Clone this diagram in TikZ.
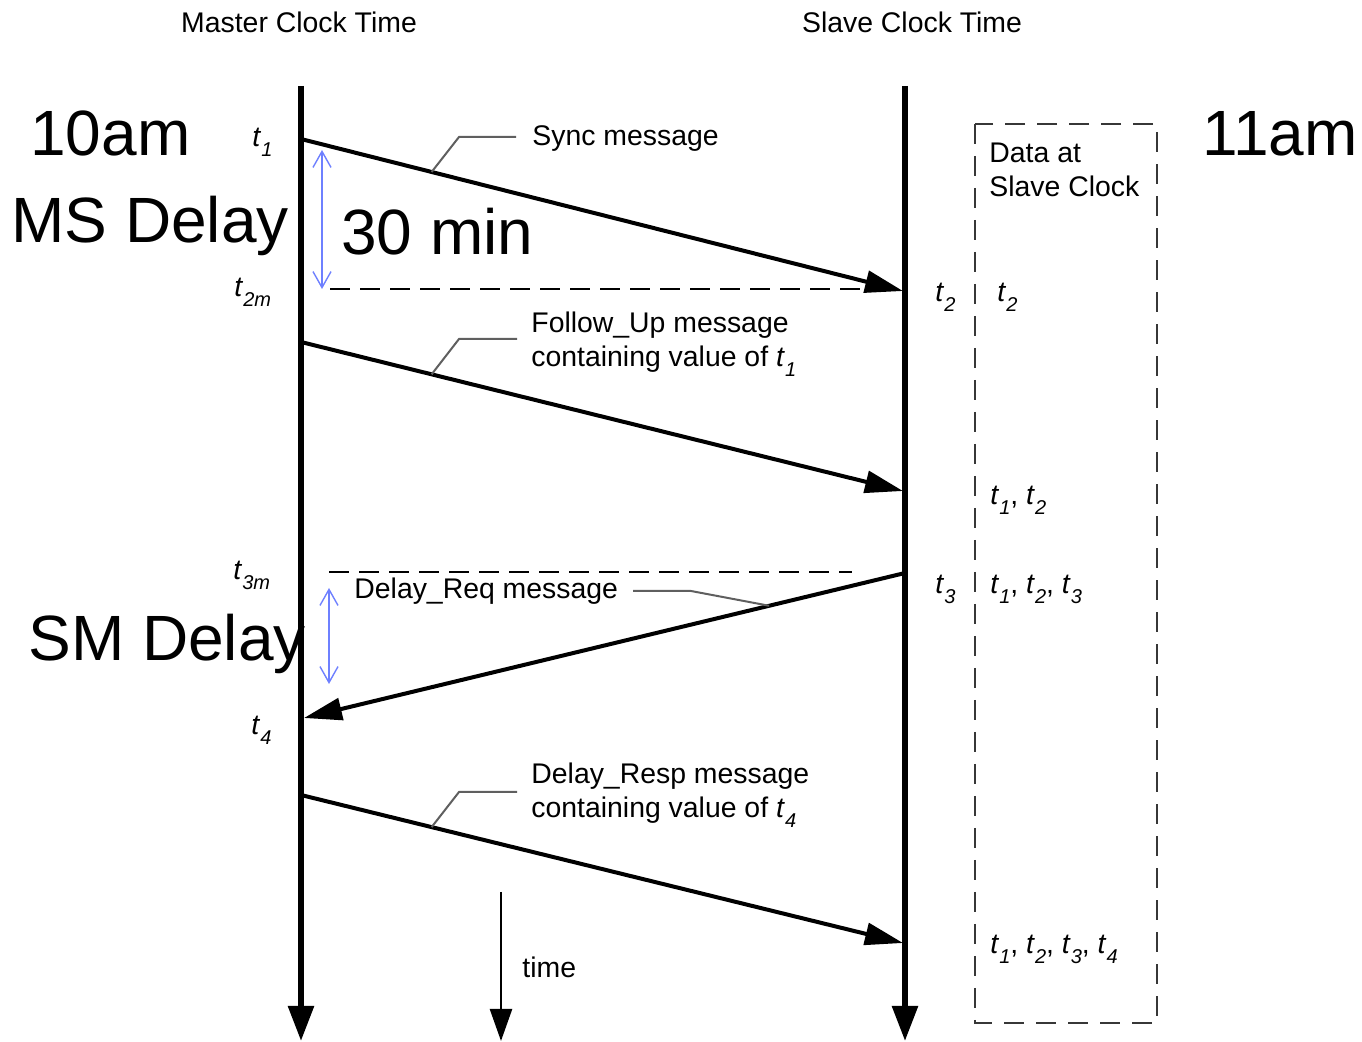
\documentclass[tikz,border=0pt]{standalone}
\usepackage{fontspec}
\setmainfont{Liberation Sans}
\usetikzlibrary{arrows.meta}
\definecolor{msgblue}{RGB}{110,128,255}
\definecolor{leadgray}{RGB}{95,95,95}
\definecolor{boxgray}{RGB}{55,55,55}
\newcommand\tv[1]{\textit{t}\raisebox{-5pt}{\fontsize{10}{10}\selectfont\textit{#1}}}
\begin{document}
\begin{tikzpicture}[x=0.5pt,y=-0.5pt,
  small/.style={font=\fontsize{14.2}{17}\selectfont, inner sep=0pt},
  big/.style={font=\fontsize{32}{36}\selectfont, inner sep=0pt},
  axisline/.style={line width=2.8pt, -{Triangle[length=17.5pt,width=12.5pt]}},
  timeline/.style={line width=1.2pt, -{Triangle[length=16pt,width=11pt]}},
  msg/.style={line width=2pt, -{Triangle[length=19pt,width=11pt]}},
  leader/.style={line width=1pt, leadgray},
  refdash/.style={line width=1pt, dash pattern=on 10pt off 5pt},
  boxdash/.style={line width=1.2pt, boxgray, dash pattern=on 10pt off 6pt},
  delayarrow/.style={line width=0.7pt, msgblue, {Straight Barb[length=8pt,width=9pt]}-{Straight Barb[length=8pt,width=9pt]}},
]
\useasboundingbox (0,0) rectangle (1362,1042);

% titles
\node[small] (mtitle) at (299,22) {Master Clock Time};
\node[small] (stitle) at (912,22) {Slave Clock Time};

% time axes
\coordinate (M0) at (301,86); \coordinate (M1) at (301,1041);
\coordinate (S0) at (905,86); \coordinate (S1) at (905,1041);
\draw[axisline] (M0) -- (M1);
\draw[axisline] (S0) -- (S1);
\coordinate (T0) at (501,892); \coordinate (T1) at (501,1041);
\draw[timeline] (T0) -- (T1);
\node[small, anchor=west] (timelbl) at (522,967) {time};

% reference dashed lines
\coordinate (R1a) at (330,289); \coordinate (R1b) at (862,289);
\draw[refdash] (R1a) -- (R1b);
\coordinate (R2a) at (329,572); \coordinate (R2b) at (852,572);
\draw[refdash] (R2a) -- (R2b);

% Sync
\coordinate (A1) at (301,139); \coordinate (A2) at (903,291);
\draw[msg] (A1) -- coordinate[pos=0.217] (Aleg) (A2);
\coordinate (Ak) at (459,137); \coordinate (Ae) at (516,137);
\draw[leader] (Aleg) -- (Ak) -- (Ae);
\node[small, anchor=west] (synclbl) at (532,139) {Sync message};

% Follow_Up
\coordinate (B1) at (301,342); \coordinate (B2) at (903,491);
\draw[msg] (B1) -- coordinate[pos=0.217] (Bleg) (B2);
\coordinate (Bk) at (459,339); \coordinate (Be) at (517,339);
\draw[leader] (Bleg) -- (Bk) -- (Be);
\node[small, anchor=north west, align=left] (fulbl) at (531,312) {Follow\_Up message\\containing value of \tv{1}};

% Delay_Req
\coordinate (C1) at (905,573); \coordinate (C2) at (304,718);
\draw[msg] (C1) -- coordinate[pos=0.226] (Cleg) (C2);
\coordinate (Cs) at (633,591); \coordinate (Ck) at (691,591);
\draw[leader] (Cs) -- (Ck) -- (Cleg);
\node[small, anchor=west] (drqlbl) at (354,591) {Delay\_Req message};

% Delay_Resp
\coordinate (D1) at (301,795); \coordinate (D2) at (903,943);
\draw[msg] (D1) -- coordinate[pos=0.217] (Dleg) (D2);
\coordinate (Dk) at (459,792); \coordinate (De) at (517,792);
\draw[leader] (Dleg) -- (Dk) -- (De);
\node[small, anchor=north west, align=left] (drslbl) at (531,763) {Delay\_Resp message\\containing value of \tv{4}};

% delay arrows
\coordinate (ms1) at (322,150); \coordinate (ms2) at (322,289);
\draw[delayarrow] (ms1) -- (ms2);
\coordinate (sm1) at (329,588); \coordinate (sm2) at (329,684);
\draw[delayarrow] (sm1) -- (sm2);

% master time labels
\node[small, anchor=base west] (lt1) at (252,147) {\tv{1}};
\node[small, anchor=base west] (lt2m) at (234,297) {\tv{2m}};
\node[small, anchor=base west] (lt3m) at (233,580) {\tv{3m}};
\node[small, anchor=base west] (lt4) at (251,735) {\tv{4}};

% slave time labels
\node[small, anchor=base west] (rt2) at (935,302) {\tv{2}};
\node[small, anchor=base west] (rt3) at (935,594) {\tv{3}};

% data box
\coordinate (box1) at (975,124); \coordinate (box2) at (1157,1023);
\draw[boxdash] (box1) rectangle (box2);
\node[small, anchor=north west, align=left] (boxtitle) at (989,143) {Data at\\Slave Clock};
\node[small, anchor=base west] (d1) at (997,302) {\tv{2}};
\node[small, anchor=base west] (d2) at (990,505) {\tv{1}, \tv{2}};
\node[small, anchor=base west] (d3) at (990,594) {\tv{1}, \tv{2}, \tv{3}};
\node[small, anchor=base west] (d4) at (990,954) {\tv{1}, \tv{2}, \tv{3}, \tv{4}};

% big annotations
\node[big, anchor=base west] (ten) at (30,156) {10am};
\node[big, anchor=base west] (msd) at (11,243) {MS Delay};
\node[big, anchor=base west] (thirty) at (341,255) {30 min};
\node[big, anchor=base west] (eleven) at (1202,156) {11am};
\node[big, anchor=base west] (smd) at (28,661) {SM Delay};
\end{tikzpicture}
\end{document}
